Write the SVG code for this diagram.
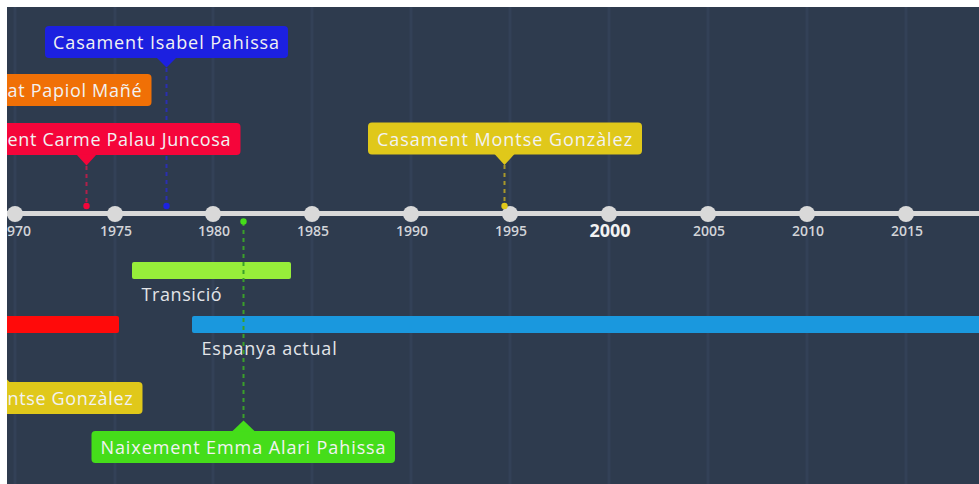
<svg xmlns="http://www.w3.org/2000/svg" width="979" height="484" viewBox="0 0 979 484">
<style>
.grid{stroke:#334157;stroke-width:3}
.yr{font-family:"Open Sans","Noto Sans",sans-serif;font-size:14px;font-weight:600;fill:#d2d4d8;text-anchor:middle}
.yrb{font-family:"Open Sans","Noto Sans",sans-serif;font-size:18px;font-weight:700;fill:#f2f2f2;text-anchor:middle}
.tick{fill:#d9d9d9}
.ev{font-family:"Open Sans","Noto Sans",sans-serif;font-size:18px;fill:#f2f2f2;letter-spacing:0.9px}
.pl{font-family:"Open Sans","Noto Sans",sans-serif;font-size:18px;fill:#e2e4e8;letter-spacing:0.8px}
.conn{stroke-width:2;stroke-dasharray:4 4;fill:none}
</style>
<rect width="979" height="484" fill="#2e3b4e"/>
<g id="grid">
<line class="grid" x1="15" y1="0" x2="15" y2="484"/>
<line class="grid" x1="115" y1="0" x2="115" y2="484"/>
<line class="grid" x1="213" y1="0" x2="213" y2="484"/>
<line class="grid" x1="312" y1="0" x2="312" y2="484"/>
<line class="grid" x1="411" y1="0" x2="411" y2="484"/>
<line class="grid" x1="510" y1="0" x2="510" y2="484"/>
<line class="grid" x1="609" y1="0" x2="609" y2="484"/>
<line class="grid" x1="708" y1="0" x2="708" y2="484"/>
<line class="grid" x1="807" y1="0" x2="807" y2="484"/>
<line class="grid" x1="906" y1="0" x2="906" y2="484"/>
</g>
<g id="period-transicio">
<rect x="132" y="262" width="159" height="17" rx="2" fill="#97ee3a"/>
<text class="pl" x="141.5" y="301" textLength="81" lengthAdjust="spacing">Transició</text>
</g>
<g id="period-red">
<rect x="-20" y="316" width="139" height="17" rx="2" fill="#ff0a0a"/>
</g>
<g id="period-espanya">
<rect x="192" y="316" width="800" height="17" rx="2" fill="#1a98de"/>
<text class="pl" x="201.5" y="355" textLength="136" lengthAdjust="spacing">Espanya actual</text>
</g>
<g id="connectors">
<line class="conn" x1="166.5" y1="68" x2="166.5" y2="206" stroke="#2a2fb0"/>
<line class="conn" x1="86.5" y1="166" x2="86.5" y2="206" stroke="#b0204a"/>
<line class="conn" x1="504.5" y1="165" x2="504.5" y2="206" stroke="#a8982a"/>
<line class="conn" x1="243.5" y1="222" x2="243.5" y2="421" stroke="#3aa02a"/>
</g>
<g id="axis">
<line x1="0" y1="213.5" x2="979" y2="213.5" stroke="#d9d9d9" stroke-width="5"/>
<circle class="tick" cx="15" cy="214" r="8"/>
<circle class="tick" cx="115" cy="214" r="8"/>
<circle class="tick" cx="213" cy="214" r="8"/>
<circle class="tick" cx="312" cy="214" r="8"/>
<circle class="tick" cx="411" cy="214" r="8"/>
<circle class="tick" cx="510" cy="214" r="8"/>
<circle class="tick" cx="609" cy="214" r="8"/>
<circle class="tick" cx="708" cy="214" r="8"/>
<circle class="tick" cx="807" cy="214" r="8"/>
<circle class="tick" cx="906" cy="214" r="8"/>
<text class="yr" x="15" y="236">1970</text>
<text class="yr" x="116" y="236">1975</text>
<text class="yr" x="214" y="236">1980</text>
<text class="yr" x="313" y="236">1985</text>
<text class="yr" x="412" y="236">1990</text>
<text class="yr" x="511" y="236">1995</text>
<text class="yrb" x="610" y="237">2000</text>
<text class="yr" x="709" y="236">2005</text>
<text class="yr" x="808" y="236">2010</text>
<text class="yr" x="907" y="236">2015</text>
<circle cx="166.5" cy="206" r="3.2" fill="#1c22e0"/>
<circle cx="86.5" cy="206" r="3.2" fill="#f5053a"/>
<circle cx="504.5" cy="206" r="3.2" fill="#e0c81a"/>
<circle cx="243.5" cy="221.5" r="3.2" fill="#45dd1a"/>
</g>
<g id="event-isabel">
<rect x="45" y="26" width="243" height="32" rx="4" fill="#1c20e0"/>
<path d="M156.5 57.5 L176.5 57.5 L166.5 67.5 Z" fill="#1c20e0"/>
<text class="ev" x="53" y="49" textLength="227" lengthAdjust="spacing">Casament Isabel Pahissa</text>
</g>
<g id="event-papiol">
<rect x="-60" y="74" width="211.5" height="32" rx="4" fill="#f07006"/>
<text class="ev" x="7.5" y="97" textLength="135" lengthAdjust="spacing">at Papiol Mañé</text>
</g>
<g id="event-carme">
<rect x="-68" y="123" width="308.5" height="32" rx="4" fill="#f5053a"/>
<path d="M76.5 154.5 L96.5 154.5 L86.5 165.5 Z" fill="#f5053a"/>
<text class="ev" x="7.5" y="146" textLength="224" lengthAdjust="spacing">ent Carme Palau Juncosa</text>
</g>
<g id="event-montse">
<rect x="368" y="122.5" width="274" height="32" rx="4" fill="#e0c81a"/>
<path d="M494.5 154 L514.5 154 L504.5 165 Z" fill="#e0c81a"/>
<text class="ev" x="377" y="145.5" textLength="256" lengthAdjust="spacing">Casament Montse Gonzàlez</text>
</g>
<g id="event-montse-2">
<rect x="-140" y="382" width="282.5" height="32" rx="4" fill="#e0c81a"/>
<path d="M-10 382.5 L10 382.5 L0 372.5 Z" fill="#e0c81a"/>
<text class="ev" x="7.5" y="405" textLength="126" lengthAdjust="spacing">ntse Gonzàlez</text>
</g>
<g id="event-emma">
<rect x="91.5" y="431" width="303.5" height="32" rx="4" fill="#45dd1a"/>
<path d="M232 431.5 L255 431.5 L243.5 420.5 Z" fill="#45dd1a"/>
<text class="ev" x="100.5" y="454" textLength="286" lengthAdjust="spacing">Naixement Emma Alari Pahissa</text>
</g>
<g id="frame">
<rect x="0" y="0" width="7" height="484" fill="#ffffff"/>
<rect x="0" y="0" width="979" height="7" fill="#ffffff"/>
</g>
</svg>
